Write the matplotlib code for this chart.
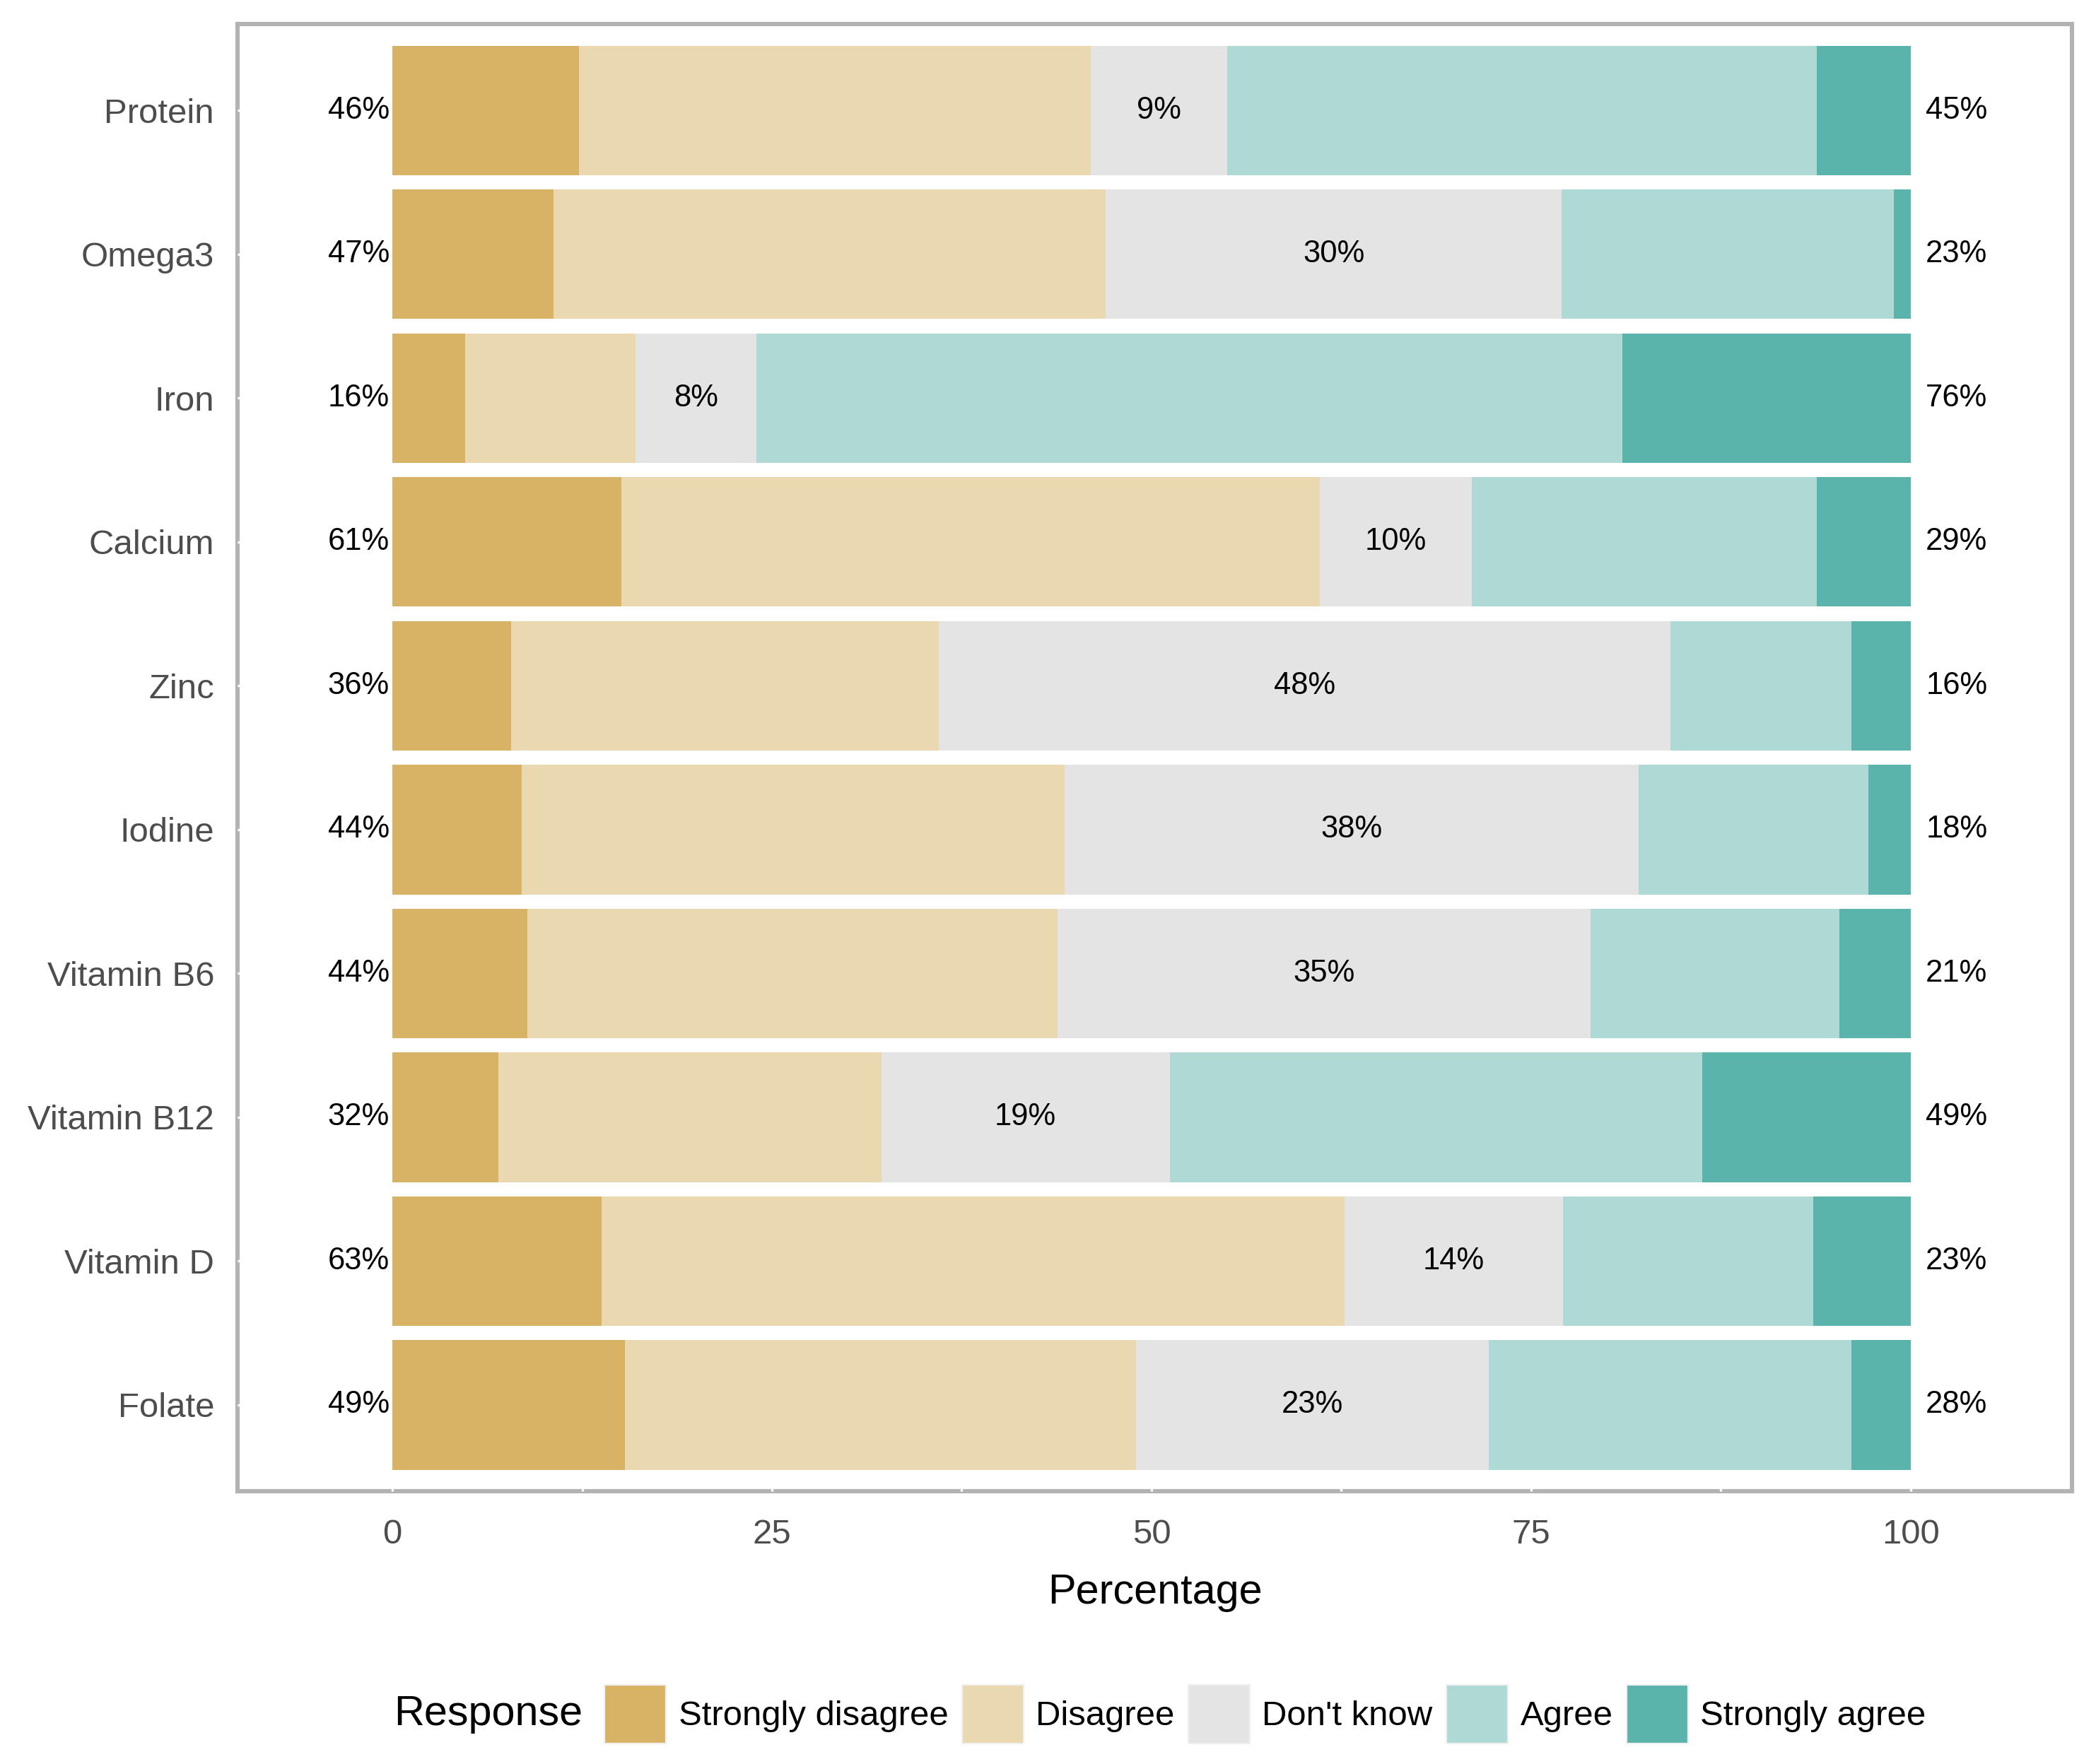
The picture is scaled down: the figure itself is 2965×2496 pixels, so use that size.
import numpy as np
import matplotlib.pyplot as plt
from matplotlib.patches import Patch

plt.rcParams['font.family'] = ['Liberation Sans', 'DejaVu Sans']

# Data (percent of responses per nutrient)
nutrients = ['Protein', 'Omega3', 'Iron', 'Calcium', 'Zinc', 'Iodine',
             'Vitamin B6', 'Vitamin B12', 'Vitamin D', 'Folate']
responses = ['Strongly disagree', 'Disagree', "Don't know", 'Agree', 'Strongly agree']
strongly_disagree = [12.3, 10.6, 4.8, 15.1, 7.8, 8.5, 8.9, 7.0, 13.8, 15.3]
disagree = [33.7, 36.4, 11.2, 46.0, 28.2, 35.8, 34.9, 25.2, 48.9, 33.7]
dont_know = [9.0, 30.0, 8.0, 10.0, 48.2, 37.8, 35.1, 19.0, 14.4, 23.2]
agree = [38.8, 21.9, 57.0, 22.7, 11.9, 15.1, 16.4, 35.1, 16.5, 23.9]
strongly_agree = [6.2, 1.1, 19.0, 6.2, 3.9, 2.8, 4.7, 13.7, 6.4, 3.9]

colors = ['#D8B365', '#EAD9B0', '#E4E4E4', '#AED9D5', '#5AB4AC']

series = np.array([strongly_disagree, disagree, dont_know, agree, strongly_agree])
y = np.arange(len(nutrients))

fig = plt.figure(figsize=(14.825, 12.48), dpi=200)
ax = fig.add_axes([177/1560, 1 - 1110/1313, (1542 - 177)/1560, (1110 - 18)/1313])

left = np.zeros(len(nutrients))
for vals, col, name in zip(series, colors, responses):
    ax.barh(y, vals, left=left, height=0.9, color=col, label=name, linewidth=0)
    left += vals

# labels: total disagree, don't know, total agree
tot_dis = series[0] + series[1]
tot_agr = series[3] + series[4]
for i in range(len(nutrients)):
    ax.text(-0.2, y[i], f'{round(tot_dis[i])}%', ha='right', va='center',
            fontsize=15.7, color='black')
    ax.text(tot_dis[i] + dont_know[i] / 2, y[i], f'{round(dont_know[i])}%',
            ha='center', va='center', fontsize=15.7, color='black')
    ax.text(101, y[i], f'{round(tot_agr[i])}%', ha='left', va='center',
            fontsize=15.7, color='black')

ax.set_xlim(-10.18, 110.62)
ax.set_ylim(len(nutrients) - 0.4, -0.6)
ax.set_yticks(y)
ax.set_yticklabels(nutrients)
ax.set_xticks([0, 25, 50, 75, 100])
ax.set_xticks([12.5, 37.5, 62.5, 87.5], minor=True)
ax.tick_params(axis='both', which='both', direction='in', color='white',
               length=3, width=1.2, labelsize=17.7, labelcolor='#4D4D4D')
ax.tick_params(axis='y', pad=12)
ax.tick_params(axis='x', pad=14)
for s in ax.spines.values():
    s.set_color('#B3B3B3')
    s.set_linewidth(2.2)
    s.set_zorder(0.5)
ax.set_xlabel('Percentage', fontsize=21.4, labelpad=11.5)

# legend with title on the left
legend_y = 1 - 1276/1313
fig.text(293/1560, legend_y, 'Response', fontsize=21.4, ha='left', va='center')
handles = [Patch(facecolor=c, edgecolor='#F0F0F0', linewidth=0.8) for c in colors]
fig.legend(handles, responses, loc='center left', bbox_to_anchor=(450/1560, legend_y),
           ncol=5, frameon=False, fontsize=17.7, handlelength=1.77, handleheight=2.2,
           handletextpad=0.35, columnspacing=0.4, borderpad=0, borderaxespad=0)

fig.savefig('out.png', dpi=200, facecolor='white')
